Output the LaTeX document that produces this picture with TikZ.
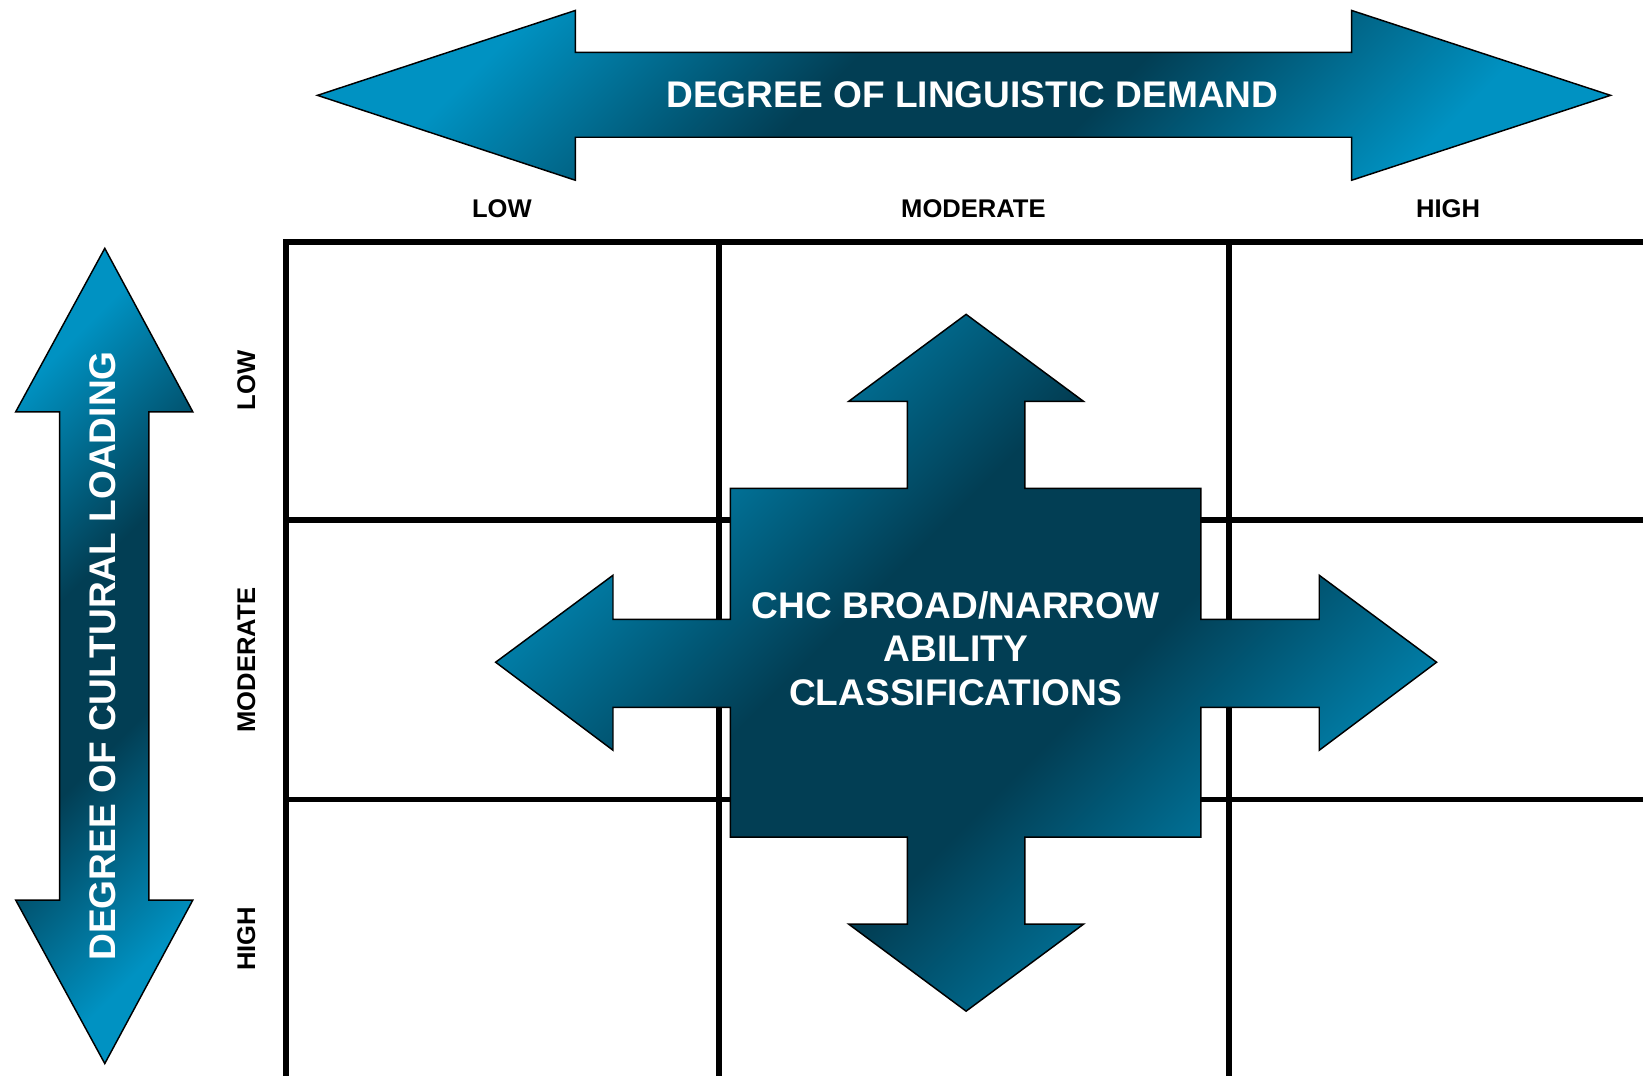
\documentclass[tikz,border=0pt]{standalone}
\usepackage{fontspec}
\setmainfont{Liberation Sans}
\definecolor{tealhi}{RGB}{0,146,194}
\definecolor{tealdk}{RGB}{2,62,84}
\pgfdeclareverticalshading{tealaxis}{100bp}{color(0bp)=(tealhi); color(25bp)=(tealhi);
  color(43bp)=(tealdk); color(57bp)=(tealdk); color(75bp)=(tealhi); color(100bp)=(tealhi)}

\begin{document}
\begin{tikzpicture}
  [x=0.5pt,y=-0.5pt,
   gridline/.style={line width=2.8pt,black},
   bluearrow/.style={draw=black,line width=0.7pt,line join=miter,
     shading=tealaxis,shading angle=45},
   axistext/.style={text=white,font=\bfseries\fontsize{17.7}{20.7}\selectfont,inner sep=0pt},
   levelname/.style={text=black,font=\bfseries\fontsize{12.2}{14}\selectfont,inner sep=0pt}]
  \clip (0,0) rectangle (1568,1026);
  % the grid
  \draw[gridline] (273,1030) -- (273,231) -- (1570,231);
  \foreach \x in {686,1173}
    \draw[gridline] (\x,231) -- (\x,1030);
  \foreach \y in {496,763}
    \draw[gridline] (273,\y) -- (1570,\y);
  % linguistic demand
  \path[bluearrow] (303,91) -- (549,10) -- (549,50) -- (1290,50) -- (1290,10) -- (1537,91)
    -- (1290,172) -- (1290,131) -- (549,131) -- (549,172) -- cycle;
  \node[axistext] (ling) at (928,90) {DEGREE OF LINGUISTIC DEMAND};
  % cultural loading
  \path[bluearrow] (100,237) -- (184,393) -- (142,393) -- (142,859) -- (184,859) -- (100,1015)
    -- (15,859) -- (57,859) -- (57,393) -- (15,393) -- cycle;
  \node[axistext,rotate=90] (cult) at (98,626) {DEGREE OF CULTURAL LOADING};
  % the cross
  \path[bluearrow] (922,300) -- (1034,383) -- (978,383) -- (978,466) -- (1146,466) -- (1146,591)
    -- (1259,591) -- (1259,549) -- (1371,632) -- (1259,716) -- (1259,675) -- (1146,675)
    -- (1146,799) -- (978,799) -- (978,882) -- (1034,882) -- (922,965) -- (810,882)
    -- (866,882) -- (866,799) -- (697,799) -- (697,675) -- (585,675) -- (585,716)
    -- (473,632) -- (585,549) -- (585,591) -- (697,591) -- (697,466) -- (866,466)
    -- (866,383) -- (810,383) -- cycle;
  \node[axistext,align=center] (chc) at (912,619) {CHC BROAD/NARROW\\ABILITY\\CLASSIFICATIONS};
  % levels
  \foreach \name/\x/\txt in {lowx/479/LOW,modx/929/MODERATE,highx/1382/HIGH}
    \node[levelname] (\name) at (\x,199) {\txt};
  \foreach \name/\y/\txt in {lowy/363/LOW,mody/630/MODERATE,highy/896/HIGH}
    \node[levelname,rotate=90] (\name) at (235,\y) {\txt};
\end{tikzpicture}
\end{document}
